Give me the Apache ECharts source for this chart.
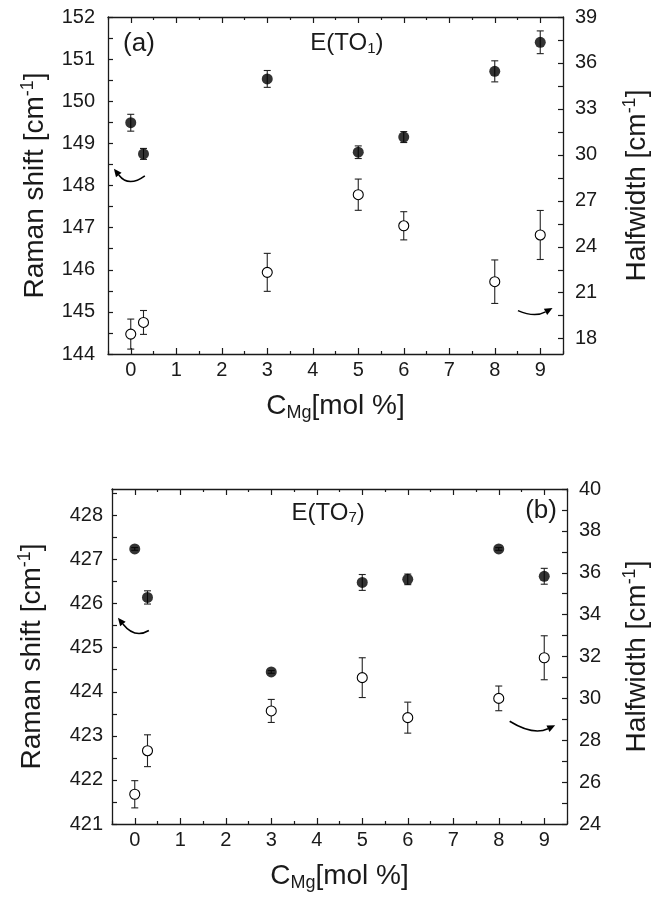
<!DOCTYPE html>
<html><head><meta charset="utf-8">
<script src="https://cdn.jsdelivr.net/npm/echarts@6/dist/echarts.min.js"></script>
<style>html,body{margin:0;padding:0;background:#fff}#c{width:663px;height:903px}</style>
</head><body><div id="c"></div>
<script>
// ---- data ----
const conc = [0, 0.28, 3, 5, 6, 8, 9];
// panel (a) E(TO1)
const shiftA    = [149.49, 148.75, 150.53, 148.79, 149.15, 150.71, 151.40];
const shiftAErr = [0.20, 0.13, 0.20, 0.15, 0.13, 0.25, 0.27];
const widthA    = [18.30, 19.06, 22.33, 27.40, 25.37, 21.72, 24.77];
const widthAErr = [0.98, 0.78, 1.24, 1.02, 0.92, 1.42, 1.60];
// panel (b) E(TO7)
const shiftB    = [427.24, 426.14, 424.45, 426.48, 426.55, 427.24, 426.62];
const shiftBErr = [0.03, 0.15, 0.03, 0.18, 0.12, 0.03, 0.18];
const widthB    = [25.42, 27.50, 29.40, 30.99, 29.08, 30.00, 31.94];
const widthBErr = [0.65, 0.76, 0.55, 0.95, 0.74, 0.59, 1.05];
// tick labels
const xTicks     = [0, 1, 2, 3, 4, 5, 6, 7, 8, 9];
const xMinor     = [-0.5, 0.5, 1.5, 2.5, 3.5, 4.5, 5.5, 6.5, 7.5, 8.5, 9.5];
const yTicksA    = [144, 145, 146, 147, 148, 149, 150, 151, 152];
const yTicksAR   = [18, 21, 24, 27, 30, 33, 36, 39];
const yTicksB    = [421, 422, 423, 424, 425, 426, 427, 428];
const yTicksBR   = [24, 26, 28, 30, 32, 34, 36, 38, 40];

const FONT = 'Liberation Sans, Arial, Helvetica, sans-serif';
const INK = '#1a1a1a';

function withHalves(arr, step) {
  const out = [];
  arr.forEach((v, i) => { out.push(v); if (i < arr.length - 1) out.push(+(v + step / 2).toFixed(3)); });
  return out;
}

function xAx(grid, pos, ticks, len, showLine, showLabel, name) {
  return {
    type: 'value', gridIndex: grid, position: pos, min: -0.5, max: 9.5,
    axisLine: { show: showLine, onZero: false, lineStyle: { color: INK, width: 1.3 } },
    axisTick: { show: true, inside: true, length: len, customValues: ticks, lineStyle: { color: INK, width: 1.2 } },
    axisLabel: { show: showLabel, customValues: xTicks, margin: 6, color: INK, fontSize: 20, fontFamily: FONT },
    splitLine: { show: false },
    name: name || '', nameLocation: 'middle', nameGap: 37,
    nameTextStyle: { color: INK, fontSize: 28, fontFamily: FONT,
      rich: { sub: { fontSize: 18, fontFamily: FONT, color: INK, verticalAlign: 'bottom', padding: [13, 0, 0, 0] } } }
  };
}
function yAx(grid, pos, min, max, labels, ticks, margin, name, gap) {
  return {
    type: 'value', gridIndex: grid, position: pos, min: min, max: max,
    axisLine: { show: true, onZero: false, lineStyle: { color: INK, width: 1.3 } },
    axisTick: { show: true, inside: true, length: 5, customValues: ticks, lineStyle: { color: INK, width: 1.2 } },
    axisLabel: { show: true, customValues: labels, margin: margin, color: INK, fontSize: 20, fontFamily: FONT },
    splitLine: { show: false },
    name: name, nameLocation: 'middle', nameGap: gap, nameRotate: 90,
    nameTextStyle: { color: INK, fontSize: 28, fontFamily: FONT,
      rich: { sup: { fontSize: 18, fontFamily: FONT, color: INK, verticalAlign: 'top', padding: [0, 0, 14, 0] } } }
  };
}

function errSeries(xi, yi, vals, errs) {
  return {
    type: 'custom', xAxisIndex: xi, yAxisIndex: yi, z: 2, silent: true,
    data: conc.map((x, i) => [x, vals[i], errs[i]]),
    renderItem(params, api) {
      const x = api.value(0), y = api.value(1), e = api.value(2);
      const a = api.coord([x, y + e]), b = api.coord([x, y - e]);
      const w = 3.5, st = { stroke: '#222', lineWidth: 1.1 };
      return { type: 'group', children: [
        { type: 'line', shape: { x1: a[0], y1: a[1], x2: b[0], y2: b[1] }, style: st },
        { type: 'line', shape: { x1: a[0] - w, y1: a[1], x2: a[0] + w, y2: a[1] }, style: st },
        { type: 'line', shape: { x1: b[0] - w, y1: b[1], x2: b[0] + w, y2: b[1] }, style: st }
      ] };
    }
  };
}
function pts(xi, yi, vals, filled) {
  return {
    type: 'scatter', xAxisIndex: xi, yAxisIndex: yi, z: 3, symbol: 'circle', symbolSize: filled ? 11 : 10,
    data: conc.map((x, i) => [x, vals[i]]),
    itemStyle: filled ? { color: '#000' } : { color: '#fff', borderColor: '#000', borderWidth: 1.1, opacity: 1 }
  };
}

const xName = 'C{sub|Mg}[mol %]';
const option = {
  animation: false,
  backgroundColor: '#fff',
  grid: [
    { left: 108, top: 17, width: 455, height: 337 },
    { left: 112, top: 489, width: 455, height: 335 }
  ],
  xAxis: [
    xAx(0, 'bottom', xTicks, 6, true, true, xName),
    xAx(0, 'bottom', xMinor, 3, false, false),
    xAx(0, 'top', xTicks, 6, true, false),
    xAx(0, 'top', xMinor, 3, false, false),
    xAx(1, 'bottom', xTicks, 6, true, true, xName),
    xAx(1, 'bottom', xMinor, 3, false, false),
    xAx(1, 'top', xTicks, 6, true, false),
    xAx(1, 'top', xMinor, 3, false, false)
  ],
  yAxis: [
    yAx(0, 'left', 144, 152, yTicksA, withHalves(yTicksA, 1), 13, 'Raman shift [cm{sup|-1}]', 57),
    yAx(0, 'right', 17, 39, yTicksAR, withHalves(yTicksAR, 3), 12, 'Halfwidth [cm{sup|-1}]', 58),
    yAx(1, 'left', 421, 428.6, yTicksB, withHalves(yTicksB.concat([429]), 1).filter(v => v <= 428.6), 9, 'Raman shift [cm{sup|-1}]', 64),
    yAx(1, 'right', 24, 40, yTicksBR, withHalves(yTicksBR, 2), 12, 'Halfwidth [cm{sup|-1}]', 54)
  ],
  series: [
    errSeries(0, 0, shiftA, shiftAErr), pts(0, 0, shiftA, true),
    errSeries(0, 1, widthA, widthAErr), pts(0, 1, widthA, false),
    errSeries(4, 2, shiftB, shiftBErr), pts(4, 2, shiftB, true),
    errSeries(4, 3, widthB, widthBErr), pts(4, 3, widthB, false)
  ]
};

const chart = echarts.init(document.getElementById('c'), null, { renderer: 'canvas' });
chart.setOption(option);

// ---- annotations in data coordinates (x, left-axis value) ----
const arrowsA = [
  { s: [0.31, 148.23], c: [-0.05, 147.95], e: [-0.37, 148.40] },
  { s: [8.51, 145.03], c: [8.88, 144.86], e: [9.27, 145.09] }
];
const arrowsB = [
  { s: [0.31, 425.39], c: [0.0, 425.20], e: [-0.37, 425.68] },
  { s: [8.24, 423.33], c: [8.76, 423.00], e: [9.24, 423.24] }
];
function arrowGraphics(list, xi, yi) {
  const out = [];
  list.forEach(a => {
    const P = p => chart.convertToPixel({ xAxisIndex: xi, yAxisIndex: yi }, p);
    const s = P(a.s), c = P(a.c), e = P(a.e);
    let dx = e[0] - c[0], dy = e[1] - c[1];
    const L = Math.hypot(dx, dy); dx /= L; dy /= L;
    const hl = 8, hw = 3.5;
    const base = [e[0] - dx * hl, e[1] - dy * hl];
    out.push({ type: 'bezierCurve', z: 10,
      shape: { x1: s[0], y1: s[1], x2: base[0], y2: base[1], cpx1: c[0], cpy1: c[1] },
      style: { stroke: '#000', lineWidth: 1.6, fill: null } });
    out.push({ type: 'polygon', z: 10,
      shape: { points: [e, [base[0] - dy * hw, base[1] + dx * hw], [base[0] + dy * hw, base[1] - dx * hw]] },
      style: { fill: '#000' } });
  });
  return out;
}
function label(xi, yi, p, text, size) {
  const q = chart.convertToPixel({ xAxisIndex: xi, yAxisIndex: yi }, p);
  return { type: 'text', z: 10, x: q[0], y: q[1],
    style: { text: text, align: 'center', verticalAlign: 'middle', fill: INK,
      fontSize: size, fontFamily: FONT,
      rich: { sub: { fontSize: 15, fontFamily: FONT, fill: INK, verticalAlign: 'bottom', padding: [10, 0, 0, 0] } } } };
}
chart.setOption({ graphic: [
  ...arrowGraphics(arrowsA, 0, 0),
  ...arrowGraphics(arrowsB, 4, 2),
  label(0, 0, [0.18, 151.37], '(a)', 26),
  label(0, 0, [4.75, 151.37], 'E(TO{sub|1})', 24),
  label(4, 2, [4.25, 428.05], 'E(TO{sub|7})', 24),
  label(4, 2, [8.93, 428.1], '(b)', 26)
] });
</script>
</body></html>
